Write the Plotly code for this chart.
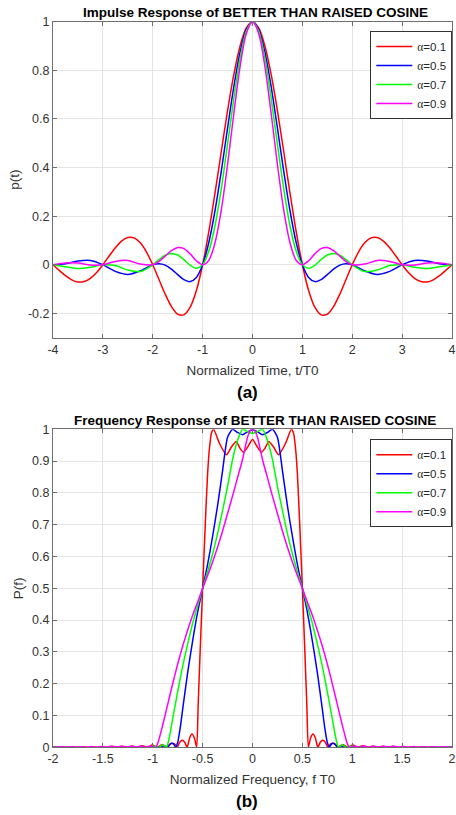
import plotly.graph_objects as go

# ---------------- data: impulse response p(t) ----------------
t_red = [-4, -3.875, -3.75, -3.625, -3.5, -3.375, -3.25, -3.125, -3, -2.875, -2.75, -2.625, -2.5, -2.375, -2.25, -2.125,
         -2, -1.875, -1.75, -1.625, -1.5, -1.375, -1.25, -1.125, -1, -0.875, -0.75, -0.625, -0.5, -0.375, -0.25, -0.125,
         0, 0.125, 0.25, 0.375, 0.5, 0.625, 0.75, 0.875, 1, 1.125, 1.25, 1.375, 1.5, 1.625, 1.75, 1.875,
         2, 2.125, 2.25, 2.375, 2.5, 2.625, 2.75, 2.875, 3, 3.125, 3.25, 3.375, 3.5, 3.625, 3.75, 3.875, 4]
p_a01 = [0, -0.0230, -0.0449, -0.0619, -0.0707, -0.0690, -0.0559, -0.0320, 0, 0.0359, 0.0703, 0.0976, 0.1124, 0.1107, 0.0905, 0.0524,
         0, -0.0606, -0.1211, -0.1719, -0.2031, -0.2061, -0.1747, -0.1057, 0, 0.1372, 0.2969, 0.4670, 0.6336, 0.7821, 0.8993, 0.9742,
         1, 0.9742, 0.8993, 0.7821, 0.6336, 0.4670, 0.2969, 0.1372, 0, -0.1057, -0.1747, -0.2061, -0.2031, -0.1719, -0.1211, -0.0606,
         0, 0.0524, 0.0905, 0.1107, 0.1124, 0.0976, 0.0703, 0.0359, 0, -0.0320, -0.0559, -0.0690, -0.0707, -0.0619, -0.0449, -0.0230, 0]

t_oth = [-4, -3.75, -3.5, -3.25, -3, -2.75, -2.5, -2.25,
         -2, -1.875, -1.75, -1.625, -1.5, -1.375, -1.25, -1.125, -1, -0.875, -0.75, -0.625, -0.5, -0.375, -0.25, -0.125,
         0, 0.125, 0.25, 0.375, 0.5, 0.625, 0.75, 0.875, 1, 1.125, 1.25, 1.375, 1.5, 1.625, 1.75, 1.875,
         2, 2.25, 2.5, 2.75, 3, 3.25, 3.5, 3.75, 4]
p_a05 = [0, 0.0046, 0.0154, 0.0174, 0, -0.0273, -0.0401, -0.0250,
         0, 0.0044, -0.0014, -0.0178, -0.0405, -0.0613, -0.0692, -0.0521, 0, 0.0926, 0.2243, 0.3861, 0.5621, 0.7319, 0.8733, 0.9671,
         1, 0.9671, 0.8733, 0.7319, 0.5621, 0.3861, 0.2243, 0.0926, 0, -0.0521, -0.0692, -0.0613, -0.0405, -0.0178, -0.0014, 0.0044,
         0, -0.0250, -0.0401, -0.0273, 0, 0.0174, 0.0154, 0.0046, 0]
p_a07 = [0, -0.0085, -0.0156, -0.0103, 0, -0.0033, -0.0215, -0.0278,
         0, 0.0214, 0.0393, 0.0468, 0.0401, 0.0209, -0.0020, -0.0146, 0, 0.0562, 0.1616, 0.3129, 0.4951, 0.6834, 0.8479, 0.9601,
         1, 0.9601, 0.8479, 0.6834, 0.4951, 0.3129, 0.1616, 0.0562, 0, -0.0146, -0.0020, 0.0209, 0.0401, 0.0468, 0.0393, 0.0214,
         0, -0.0278, -0.0215, -0.0033, 0, -0.0103, -0.0156, -0.0085, 0]
p_a09 = [0, 0.0077, 0.0070, -0.0013, 0, 0.0139, 0.0180, 0.0029,
         0, 0.0138, 0.0357, 0.0580, 0.0707, 0.0664, 0.0450, 0.0165, 0, 0.0187, 0.0919, 0.2265, 0.4123, 0.6214, 0.8145, 0.9508,
         1, 0.9508, 0.8145, 0.6214, 0.4123, 0.2265, 0.0919, 0.0187, 0, 0.0165, 0.0450, 0.0664, 0.0707, 0.0580, 0.0357, 0.0138,
         0, 0.0029, 0.0180, 0.0139, 0, -0.0013, 0.0070, 0.0077, 0]

# ---------------- data: frequency response P(f) ----------------
f_a01 = [-2, -1.955, -1.905, -1.855, -1.805, -1.755, -1.705, -1.655, -1.605, -1.555, -1.505, -1.455, -1.405, -1.355, -1.305,
         -1.255, -1.205, -1.155, -1.105, -1.055, -1.005, -0.955, -0.905, -0.855, -0.83, -0.805, -0.78, -0.755, -0.73, -0.705,
         -0.68, -0.655, -0.63, -0.607, -0.583, -0.56, -0.545, -0.525, -0.5, -0.475, -0.45, -0.43, -0.41, -0.39, -0.33, -0.262,
         -0.21, -0.163, -0.125, -0.09, -0.045, 0, 0.045, 0.09, 0.125, 0.163, 0.21, 0.262, 0.33, 0.39, 0.41, 0.43, 0.45, 0.475,
         0.5, 0.525, 0.545, 0.56, 0.583, 0.607, 0.63, 0.655, 0.68, 0.705, 0.73, 0.755, 0.78, 0.805, 0.83, 0.855, 0.905, 0.955,
         1.005, 1.055, 1.105, 1.155, 1.205, 1.255, 1.305, 1.355, 1.405, 1.455, 1.505, 1.555, 1.605, 1.655, 1.705, 1.755, 1.805,
         1.855, 1.905, 1.955, 2]
P_a01 = [0.001, 0, 0.002, 0, 0.002, 0, 0.002, 0, 0.002, 0, 0.0025, 0, 0.003, 0, 0.003,
         0, 0.004, 0, 0.005, 0, 0.007, 0, 0.009, 0, 0.01, 0.013, 0.01, 0, 0.016, 0.022,
         0.016, 0, 0.03, 0.042, 0.03, 0, 0.13, 0.3, 0.5, 0.69, 0.86, 0.945, 0.99, 1.0, 0.955, 0.92,
         0.945, 0.962, 0.94, 0.928, 0.946, 0.968, 0.946, 0.928, 0.94, 0.962, 0.945, 0.92, 0.955, 1.0, 0.99, 0.945, 0.86, 0.69,
         0.5, 0.3, 0.13, 0, 0.03, 0.042, 0.03, 0, 0.016, 0.022, 0.016, 0, 0.01, 0.013, 0.01, 0, 0.009, 0,
         0.007, 0, 0.005, 0, 0.004, 0, 0.003, 0, 0.003, 0, 0.0025, 0, 0.002, 0, 0.002, 0, 0.002,
         0, 0.002, 0, 0.001]

f_a05 = [-2, -0.93, -0.89, -0.85, -0.83, -0.81, -0.79, -0.77, -0.75, -0.725, -0.7, -0.65, -0.6, -0.55, -0.5, -0.45, -0.4,
         -0.35, -0.3, -0.275, -0.25, -0.2, -0.15, -0.1, -0.05, 0, 0.05, 0.1, 0.15, 0.2, 0.25, 0.275, 0.3, 0.35, 0.4, 0.45,
         0.5, 0.55, 0.6, 0.65, 0.7, 0.725, 0.75, 0.77, 0.79, 0.81, 0.83, 0.85, 0.89, 0.93, 2]
P_a05 = [0, 0, 0.004, 0, 0.008, 0.013, 0.01, 0, 0.015, 0.06, 0.12, 0.235, 0.335, 0.425, 0.5, 0.575, 0.663,
         0.76, 0.87, 0.93, 0.975, 1.0, 0.99, 0.983, 0.992, 0.998, 0.992, 0.983, 0.99, 1.0, 0.975, 0.93, 0.87, 0.76, 0.663, 0.575,
         0.5, 0.425, 0.335, 0.235, 0.12, 0.06, 0.015, 0, 0.01, 0.013, 0.008, 0, 0.004, 0, 0]

f_a07 = [-2, -1.02, -0.98, -0.94, -0.9, -0.865, -0.85, -0.825, -0.8, -0.75, -0.7, -0.65, -0.6, -0.55, -0.5, -0.45, -0.4,
         -0.35, -0.3, -0.25, -0.2, -0.15, -0.1, -0.05, 0, 0.05, 0.1, 0.15, 0.2, 0.25, 0.3, 0.35, 0.4, 0.45, 0.5, 0.55, 0.6,
         0.65, 0.7, 0.75, 0.8, 0.825, 0.85, 0.865, 0.9, 0.94, 0.98, 1.02, 2]
P_a07 = [0, 0, 0.004, 0, 0.008, 0, 0.01, 0.045, 0.09, 0.175, 0.255, 0.325, 0.39, 0.445, 0.5, 0.552, 0.608,
         0.672, 0.745, 0.82, 0.905, 0.965, 1.0, 0.993, 0.987, 0.993, 1.0, 0.965, 0.905, 0.82, 0.745, 0.672, 0.608, 0.552, 0.5,
         0.445, 0.39, 0.325, 0.255, 0.175, 0.09, 0.045, 0.01, 0, 0.008, 0, 0.004, 0, 0]

f_a09 = [-2, -1.97, -1.92, -1.87, -1.82, -1.77, -1.72, -1.67, -1.62, -1.57, -1.52, -1.47, -1.42, -1.37, -1.32, -1.27,
         -1.22, -1.17, -1.12, -1.07, -1.02, -0.97, -0.95, -0.9, -0.85, -0.8, -0.75, -0.7, -0.65, -0.6, -0.55, -0.5, -0.45,
         -0.4, -0.35, -0.3, -0.25, -0.2, -0.15, -0.1, -0.05, -0.025, 0, 0.025, 0.05, 0.1, 0.15, 0.2, 0.25, 0.3, 0.35, 0.4,
         0.45, 0.5, 0.55, 0.6, 0.65, 0.7, 0.75, 0.8, 0.85, 0.9, 0.95, 0.97, 1.02, 1.07, 1.12, 1.17, 1.22, 1.27, 1.32, 1.37,
         1.42, 1.47, 1.52, 1.57, 1.62, 1.67, 1.72, 1.77, 1.82, 1.87, 1.92, 1.97, 2]
P_a09 = [0.001, 0, 0.002, 0, 0.002, 0, 0.002, 0, 0.0025, 0, 0.0025, 0, 0.003, 0, 0.003, 0,
         0.003, 0, 0.004, 0, 0.004, 0, 0.012, 0.07, 0.135, 0.2, 0.262, 0.318, 0.368, 0.415, 0.457, 0.5, 0.54,
         0.583, 0.63, 0.68, 0.735, 0.79, 0.848, 0.905, 0.975, 0.995, 1.0, 0.995, 0.975, 0.905, 0.848, 0.79, 0.735, 0.68, 0.63, 0.583,
         0.54, 0.5, 0.457, 0.415, 0.368, 0.318, 0.262, 0.2, 0.135, 0.07, 0.012, 0, 0.004, 0, 0.004, 0, 0.003, 0, 0.003, 0,
         0.003, 0, 0.0025, 0, 0.0025, 0, 0.002, 0, 0.002, 0, 0.002, 0, 0.001]

series_names = ["α=0.1", "α=0.5", "α=0.7", "α=0.9"]
series_colors = ["#ff0000", "#0000ff", "#00ff00", "#ff00ff"]

x_ticks_top = [-4, -3, -2, -1, 0, 1, 2, 3, 4]
x_ticktext_top = ["-4", "-3", "-2", "-1", "0", "1", "2", "3", "4"]
y_ticks_top = [-0.2, 0, 0.2, 0.4, 0.6, 0.8, 1]
y_ticktext_top = ["-0.2", "0", "0.2", "0.4", "0.6", "0.8", "1"]
x_ticks_bot = [-2, -1.5, -1, -0.5, 0, 0.5, 1, 1.5, 2]
x_ticktext_bot = ["-2", "-1.5", "-1", "-0.5", "0", "0.5", "1", "1.5", "2"]
y_ticks_bot = [0, 0.1, 0.2, 0.3, 0.4, 0.5, 0.6, 0.7, 0.8, 0.9, 1]
y_ticktext_bot = ["0", "0.1", "0.2", "0.3", "0.4", "0.5", "0.6", "0.7", "0.8", "0.9", "1"]

FONT = "Liberation Sans, Arial, sans-serif"


def legend_label(name):
    a, rest = name[0], name[1:]
    return "<span style='font-family:Liberation Serif, Times New Roman, serif'>" + a + "</span>" + rest


fig = go.Figure()

top_x = [t_red, t_oth, t_oth, t_oth]
top_y = [p_a01, p_a05, p_a07, p_a09]
for xs, ys, nm, col in zip(top_x, top_y, series_names, series_colors):
    fig.add_trace(go.Scatter(x=xs, y=ys, mode="lines", name=legend_label(nm),
                             line=dict(color=col, width=1.5, shape="spline", smoothing=0.8),
                             xaxis="x", yaxis="y", legend="legend"))

bot_x = [f_a01, f_a05, f_a07, f_a09]
bot_y = [P_a01, P_a05, P_a07, P_a09]
for xs, ys, nm, col in zip(bot_x, bot_y, series_names, series_colors):
    fig.add_trace(go.Scatter(x=xs, y=ys, mode="lines", name=legend_label(nm),
                             line=dict(color=col, width=1.5, shape="spline", smoothing=0.6),
                             xaxis="x2", yaxis="y2", legend="legend2"))

axis_common = dict(showline=True, linecolor="#6e6e6e", linewidth=1, mirror="ticks",
                   ticks="inside", ticklen=4, tickcolor="#6e6e6e", tickwidth=1,
                   showgrid=True, gridcolor="#e4e4e4", gridwidth=1, zeroline=False,
                   tickfont=dict(family=FONT, size=12.5, color="#333333"),
                   tickmode="array", ticklabeloverflow="allow", automargin=False)

H = 815.0
R = 4
PW = 456 - 53 - R
top_dom = [1 - 337.7 / H, 1 - 21.7 / H]
bot_dom = [1 - 747.3 / H, 1 - 429.3 / H]
TFONT = dict(family=FONT, size=13.5, color="#333333")

fig.update_layout(
    width=456, height=815,
    margin=dict(l=53, r=R, t=0, b=0, autoexpand=False),
    paper_bgcolor="white", plot_bgcolor="white",
    font=dict(family=FONT, color="#262626"),
    xaxis=dict(axis_common, domain=[0, 1], anchor="y", range=[-4, 4],
               tickvals=x_ticks_top, ticktext=x_ticktext_top,
               title=dict(text="Normalized Time, t/T0", font=TFONT, standoff=9)),
    yaxis=dict(axis_common, domain=top_dom, anchor="x", range=[-0.3, 1],
               tickvals=y_ticks_top, ticktext=y_ticktext_top,
               title=dict(text="p(t)", font=TFONT, standoff=5)),
    xaxis2=dict(axis_common, domain=[0, 1], anchor="y2", range=[-2, 2],
                tickvals=x_ticks_bot, ticktext=x_ticktext_bot,
                title=dict(text="Normalized Frequency, f T0", font=TFONT, standoff=9)),
    yaxis2=dict(axis_common, domain=bot_dom, anchor="x2", range=[0, 1],
                tickvals=y_ticks_bot, ticktext=y_ticktext_bot,
                title=dict(text="P(f)", font=TFONT, standoff=5)),
    legend=dict(x=(370.3 - 53) / PW, y=1 - 31 / H, xanchor="left", yanchor="top",
                bgcolor="white", bordercolor="#333333", borderwidth=1,
                font=dict(family=FONT, size=11.5, color="#262626"), itemwidth=36,
                tracegroupgap=0),
    legend2=dict(x=(370.3 - 53) / PW, y=1 - 439.3 / H, xanchor="left", yanchor="top",
                 bgcolor="white", bordercolor="#333333", borderwidth=1,
                 font=dict(family=FONT, size=11.5, color="#262626"), itemwidth=36,
                 tracegroupgap=0),
    showlegend=True,
)

annotations = [
    dict(text="<b>Impulse Response of BETTER THAN RAISED COSINE</b>", x=(255 - 53) / PW, y=1 - 12.5 / H),
    dict(text="<b>Frequency Response of BETTER THAN RAISED COSINE</b>", x=(255 - 53) / PW, y=1 - 420 / H),
]
for a in annotations:
    fig.add_annotation(xref="paper", yref="paper", x=a["x"], y=a["y"], text=a["text"], showarrow=False,
                       xanchor="center", yanchor="middle", font=dict(family=FONT, size=13.5, color="black"))

for lab, yy in [("(a)", 392.7), ("(b)", 801.7)]:
    fig.add_annotation(xref="paper", yref="paper", x=(247 - 53) / PW, y=1 - yy / H, text="<b>" + lab + "</b>",
                       showarrow=False, xanchor="center", yanchor="middle",
                       font=dict(family=FONT, size=17, color="black"))

fig.write_html("out.html")
